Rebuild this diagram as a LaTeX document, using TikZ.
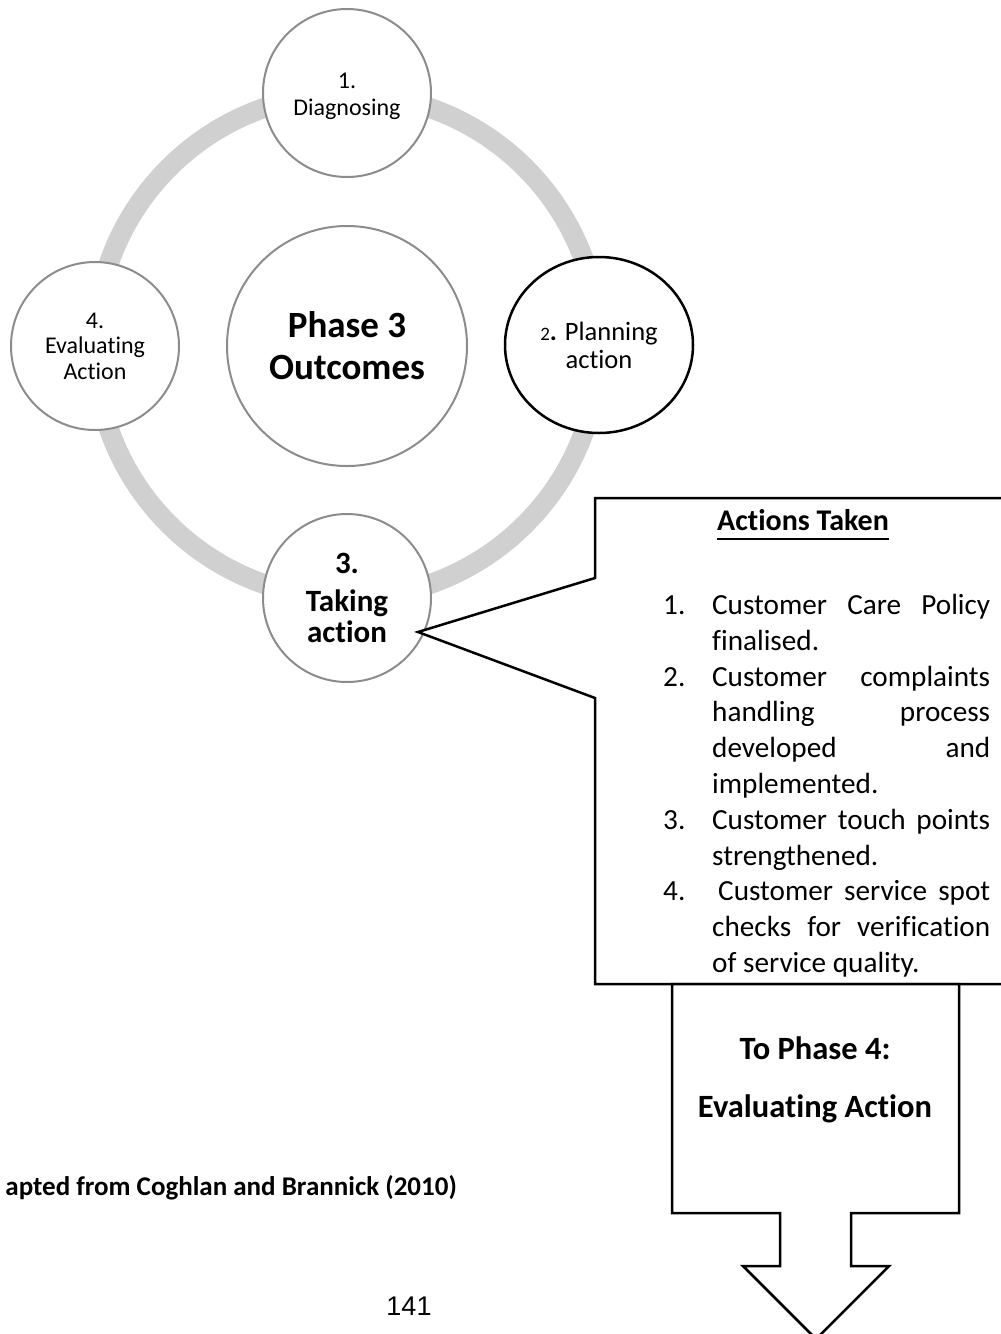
\documentclass[tikz,border=0pt]{standalone}
\usepackage{fontspec}
\setmainfont{Carlito}[Ligatures=NoCommon]
\newfontfamily\pagefont{Liberation Sans}
\usetikzlibrary{shapes.geometric}
\definecolor{ringgray}{HTML}{D0D0D0}
\definecolor{stagegray}{HTML}{8C8C8C}
\begin{document}
\begin{tikzpicture}[x=1pt,y=-1pt,
  stage/.style={circle, draw=stagegray, line width=2pt, fill=white,
    minimum size=168pt, inner sep=0pt, align=center},
  outline/.style={draw=black, line width=2.5pt, fill=white, line join=miter},
  boldtext/.style={font=\bfseries, inner sep=0pt}
]
\useasboundingbox (0,0) rectangle (1001,1334);
\fill[white] (0,0) rectangle (1001,1334);

% cycle ring
\coordinate (hub) at (347,346);
\draw[ringgray, line width=20pt] (hub) circle[radius=252pt];

% centre and the four stages
\node[stage, minimum size=240pt,
      font=\fontsize{37}{42}\selectfont\bfseries] (centre) at (hub) {Phase 3\\Outcomes};
\node[stage, font=\fontsize{24}{27}\selectfont] (diag) at (347,93)
      {\raisebox{-9.5pt}[0pt][0pt]{\parbox{150pt}{\centering 1.\\Diagnosing}}};
\node[stage, font=\fontsize{24}{25.5}\selectfont] (eval) at (95,346) {4.\\Evaluating\\Action};
\node[ellipse, draw=black, line width=2.5pt, fill=white, minimum width=188pt,
      minimum height=176pt, inner sep=0pt, align=center,
      font=\fontsize{26.5}{28}\selectfont] (plan) at (599,345)
      {{\fontsize{19}{28}\selectfont 2}\textbf{.} Planning\\action};
\node[stage, font=\fontsize{31}{31}\selectfont\bfseries] (take) at (347,598)
      {3.\\[7pt]Taking\\action};

% callout with the actions taken
\coordinate (tip) at (418,632);
\draw[outline] (1012,498) -- (595,498) -- (595,578) -- (tip) -- (595,698)
  -- (595,984) -- (1012,984);

\node[boldtext, font=\fontsize{30}{34}\selectfont\bfseries, anchor=base]
  (head) at (803,530) {Actions Taken};
\draw[line width=2pt] ([yshift=-9pt]head.base west) -- ([yshift=-9pt]head.base east);

\node[anchor=north west, inner sep=0pt, text width=327pt, align=justify,
      font=\fontsize{29.2}{35.8}\selectfont] (list) at (663,594) {%
  \hbadness=10000 \hfuzz=5pt \parindent=0pt
  \hangindent=49pt\hangafter=0\noindent\llap{\makebox[49pt][l]{1.}}%
  Customer Care Policy\linebreak finalised.\par
  \hangindent=49pt\hangafter=0\noindent\llap{\makebox[49pt][l]{2.}}%
  Customer complaints\linebreak handling process\linebreak developed and\linebreak implemented.\par
  \hangindent=49pt\hangafter=0\noindent\llap{\makebox[49pt][l]{3.}}%
  Customer touch points\linebreak strengthened.\par
  \hangindent=49pt\hangafter=0\noindent\llap{\makebox[49pt][l]{4.}}%
  \hspace*{6pt}Customer service spot\linebreak checks for verification\linebreak of service quality.\par};

% block arrow leading to the next phase
\draw[outline] (672,984) -- (959,984) -- (959,1213) -- (851,1213) -- (851,1266)
  -- (889,1266) -- (816,1339) -- (743,1266) -- (780,1266) -- (780,1213)
  -- (672,1213) -- cycle;
\node[boldtext, font=\fontsize{32.5}{36}\selectfont\bfseries, anchor=base]
  (next1) at (815,1059) {To Phase 4:};
\node[boldtext, font=\fontsize{32.5}{36}\selectfont\bfseries, anchor=base]
  (next2) at (815,1117) {Evaluating Action};

% source line and page number
\node[boldtext, font=\fontsize{27}{30}\selectfont\bfseries, anchor=base east]
  (source) at (457,1195) {apted from Coghlan and Brannick (2010)};
\node[inner sep=0pt, anchor=base, font=\fontsize{27}{30}\pagefont]
  (page) at (409,1315) {141};
\end{tikzpicture}
\end{document}
